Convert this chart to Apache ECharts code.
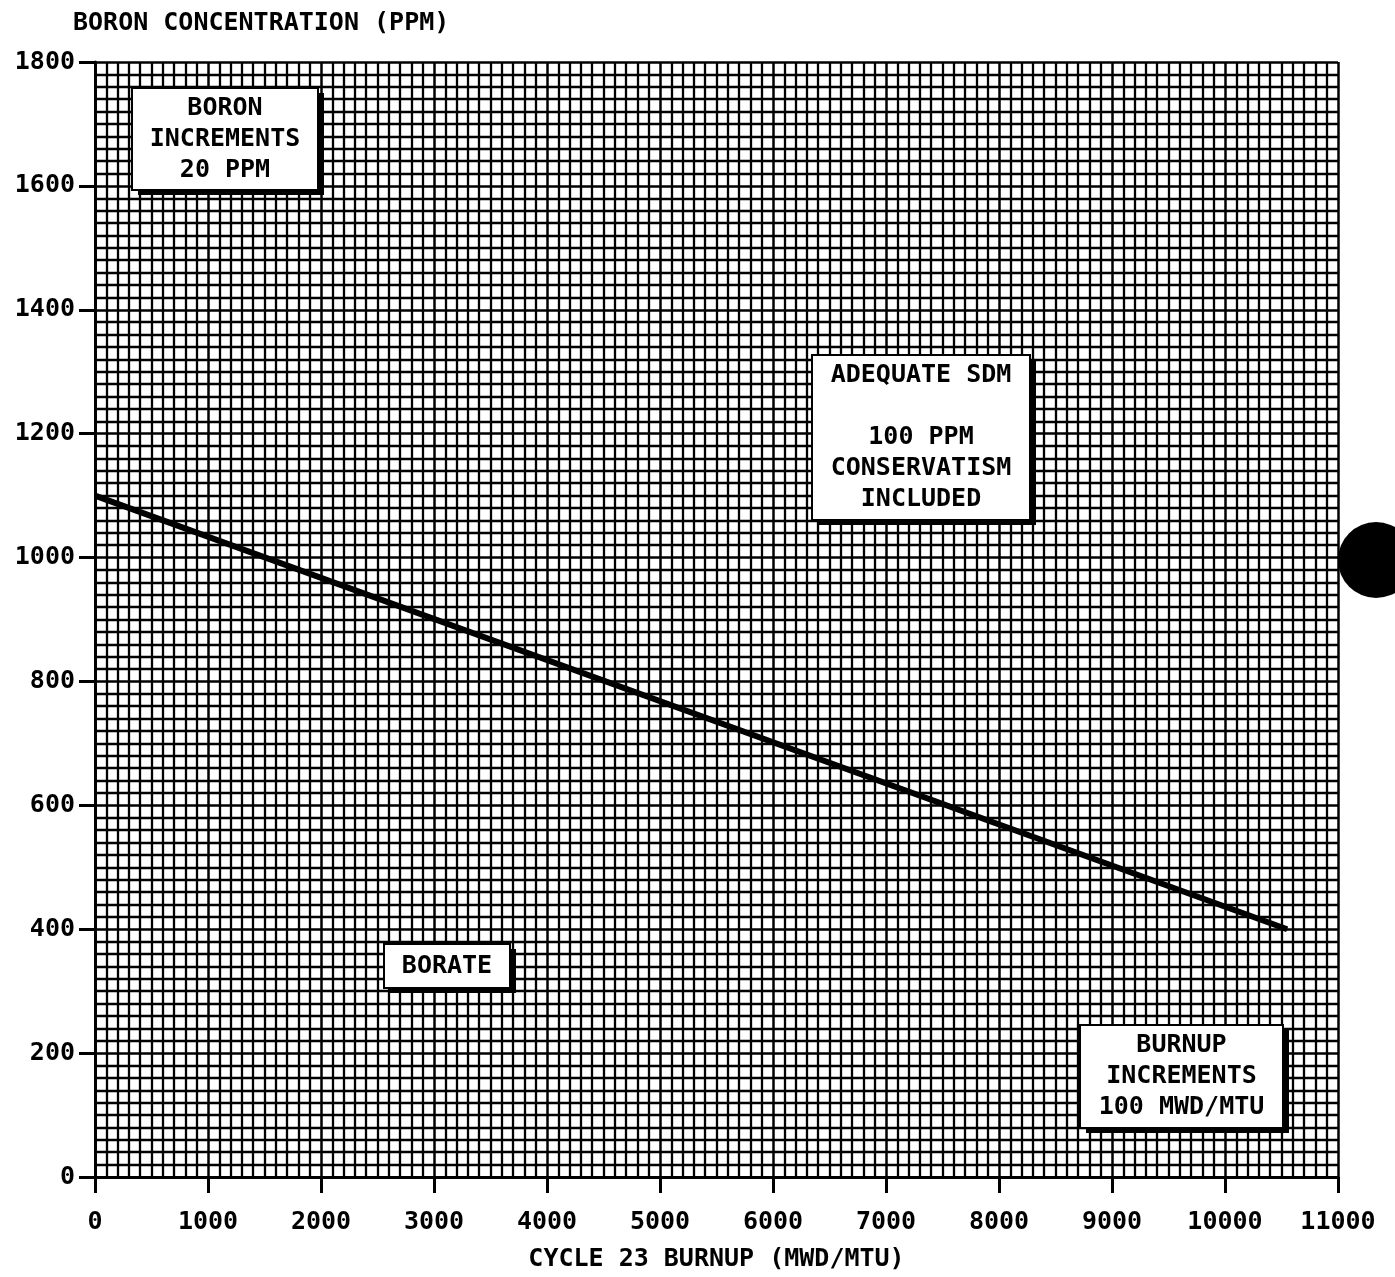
<!DOCTYPE html>
<html><head><meta charset="utf-8">
<script src="https://cdn.jsdelivr.net/npm/echarts@6/dist/echarts.min.js"></script>
<style>html,body{margin:0;padding:0;background:#fff;overflow:hidden}#c{width:1395px;height:1277px}</style>
</head><body><div id="c"></div>
<script>
// Data
var burnup = [0, 10550];            // MWD/MTU
var boron = [1100, 400];            // PPM
var xTicks = [0, 11000, 1000];      // min, max, interval
var yTicks = [0, 1800, 200];
var yTitle = 'BORON CONCENTRATION (PPM)';
var xTitle = 'CYCLE 23 BURNUP (MWD/MTU)';
var notes = [
  'BORON\nINCREMENTS\n20 PPM',
  'ADEQUATE SDM\n\n100 PPM\nCONSERVATISM\nINCLUDED',
  'BORATE',
  'BURNUP\nINCREMENTS\n100 MWD/MTU'
];

var FONT = 'DejaVu Sans Mono';
var chart = echarts.init(document.getElementById('c'), null, {renderer: 'canvas'});

function box(x, y, w, h, text) {
  return {
    type: 'group',
    children: [
      {type: 'rect', z: 200, shape: {x: x + 6, y: y + 5, width: w, height: h}, style: {fill: '#000'}},
      {type: 'rect', z: 201, shape: {x: x, y: y, width: w, height: h}, style: {fill: '#fff', stroke: '#000', lineWidth: 2}},
      {type: 'text', z: 202, x: x + w / 2, y: y + h / 2,
        style: {text: text, fill: '#000', font: 'bold 25px "' + FONT + '"', align: 'center', verticalAlign: 'middle', lineHeight: 31}}
    ]
  };
}

var gridLine = {show: true, lineStyle: {color: '#000', width: 2.5}};
var plain = function (v) { return String(v); };

chart.setOption({
  backgroundColor: '#fff',
  animation: false,
  title: {text: yTitle, left: 68, top: 6, textStyle: {fontFamily: FONT, fontSize: 25, fontWeight: 'bold', color: '#000'}},
  grid: {left: 95, top: 62, width: 1243, height: 1115, containLabel: false},
  xAxis: {
    type: 'value', min: xTicks[0], max: xTicks[1], interval: xTicks[2],
    name: xTitle, nameLocation: 'middle', nameGap: 70,
    nameTextStyle: {fontFamily: FONT, fontSize: 25, fontWeight: 'bold', color: '#000'},
    axisLine: {show: true, onZero: false, lineStyle: {color: '#000', width: 3}},
    axisTick: {show: true, length: 16, lineStyle: {color: '#000', width: 3}},
    axisLabel: {margin: 33, formatter: plain, fontFamily: FONT, fontSize: 25, fontWeight: 'bold', color: '#000'},
    splitLine: gridLine,
    minorTick: {show: false, splitNumber: 10},
    minorSplitLine: {show: true, lineStyle: {color: '#000', width: 2.3}}
  },
  yAxis: {
    type: 'value', min: yTicks[0], max: yTicks[1], interval: yTicks[2],
    axisLine: {show: true, onZero: false, lineStyle: {color: '#000', width: 3}},
    axisTick: {show: true, length: 16, lineStyle: {color: '#000', width: 3}},
    axisLabel: {margin: 20, formatter: plain, fontFamily: FONT, fontSize: 25, fontWeight: 'bold', color: '#000'},
    splitLine: gridLine,
    minorTick: {show: false, splitNumber: 10},
    minorSplitLine: {show: true, lineStyle: {color: '#000', width: 2.3}}
  },
  series: [{
    type: 'line', data: burnup.map(function (b, i) { return [b, boron[i]]; }),
    showSymbol: false, lineStyle: {color: '#000', width: 6}, z: 10
  }],
  graphic: [
    box(132, 88, 186, 102, notes[0]),
    box(812, 355, 218, 165, notes[1]),
    box(384, 944, 126, 44, notes[2]),
    box(1080, 1025, 203, 103, notes[3]),
    {type: 'circle', z: 200, shape: {cx: 1376, cy: 560, r: 38}, style: {fill: '#000'}}
  ]
});
</script></body></html>
